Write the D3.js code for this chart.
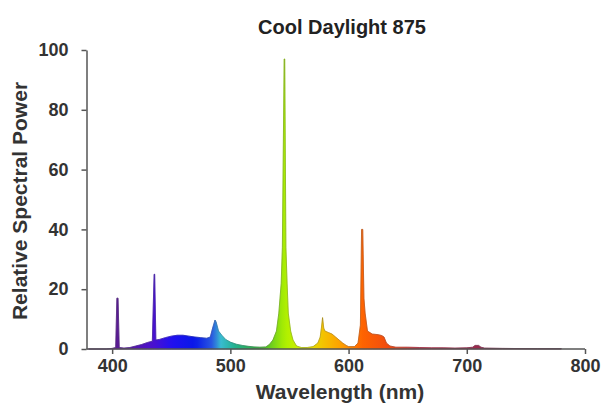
<!DOCTYPE html>
<head>
  <meta charset="utf-8">
  <style>
    body { margin: 0; background: #fff; }
    svg { background-color: #fff; font-family: "Liberation Sans", Arial, sans-serif; }
    .axis path, .axis line { stroke: #555; stroke-width: 1.5px; }
    .axis text { fill: #333; font-size: 18px; font-weight: bold; }
  </style>
</head>
<body>
  <svg></svg>
  <script src="https://d3js.org/d3.v7.min.js"></script>
  <script>
    // values
    let title = "Cool Daylight 875";
    let wavelength = [380, 395, 400, 403, 404, 405, 406, 410, 415, 420, 425, 430, 434, 435.5, 436, 437,
      440, 445, 450, 455, 460, 465, 470, 475, 480, 483, 485, 487, 488, 490, 493, 496, 500, 505, 510,
      515, 520, 525, 530, 533, 536, 539, 541, 543, 544, 545.5, 546, 547, 548, 549, 551, 553, 556, 560,
      565, 570, 574, 576, 577, 578, 579, 580, 583, 586, 589, 592, 595, 598, 600, 605, 608, 610, 611,
      612, 613, 614, 616, 620, 625, 628, 630, 632, 635, 640, 650, 660, 670, 680, 690, 700, 705, 707,
      710, 712, 715, 730, 760, 780];
    let power = [0, 0, 0.2, 0.5, 17, 17, 0.5, 0.3, 0.5, 1, 1.5, 2.2, 2.6, 25, 25, 3,
      3.2, 3.8, 4.3, 4.6, 4.6, 4.3, 4, 3.8, 3.6, 4, 7, 9.7, 9, 6, 4.5, 3.2, 2.3, 1.6, 1.2,
      0.9, 0.7, 0.6, 0.7, 1.5, 3, 6, 12, 22, 34, 97, 97, 34, 22, 12, 6, 3, 1, 0.5,
      0.5, 0.8, 2, 4, 7, 10.5, 7, 6, 5.5, 5, 4, 3, 2, 1.2, 0.8, 0.8, 2, 8, 40,
      40, 17, 12, 6, 5, 4.8, 4.5, 4, 2, 1, 0.6, 0.6, 0.5, 0.4, 0.4, 0.3, 0.4, 0.6, 1.2,
      1.2, 0.6, 0.3, 0.2, 0.1, 0.1];
    let xTicks = [400, 500, 600, 700, 800];
    let yTicks = [0, 20, 40, 60, 80, 100];

    let data = wavelength.map(function(w, i) { return {w: w, v: power[i]}; });

    let width = 604, height = 406;
    let svg = d3.select('svg').attr('width', width).attr('height', height);

    let x = d3.scaleLinear().domain([380, 800]).range([88.5, 585]);
    let y = d3.scaleLinear().domain([0, 100]).range([349, 50]);

    // colour of light by wavelength
    let hue = d3.scaleLinear()
      .domain([380, 410, 435, 450, 470, 485, 492, 505, 525, 546, 562, 578, 595, 611, 635, 660, 720, 780])
      .range(["#5a1a7a", "#5a1a9a", "#4a10d0", "#2210f0", "#0818e8", "#2a5ce0", "#38bcd0", "#22b088",
              "#38b038", "#acf000", "#d8ec00", "#f4c400", "#ff9c00", "#ff6400", "#f04a10", "#c82840",
              "#902a50", "#702850"]);

    let grad = svg.append('defs').append('linearGradient')
      .attr('id', 'spectrum')
      .attr('gradientUnits', 'userSpaceOnUse')
      .attr('x1', x(380)).attr('x2', x(780)).attr('y1', 0).attr('y2', 0);
    grad.selectAll('stop')
      .data(d3.range(380, 781, 4))
      .join('stop')
      .attr('offset', function(d) { return (d - 380) / 400; })
      .attr('stop-color', function(d) { return hue(d); });

    let area = d3.area()
      .x(function(d) { return x(d.w); })
      .y0(y(0))
      .y1(function(d) { return y(d.v); });

    svg.append('path')
      .datum(data)
      .attr('d', area)
      .attr('fill', 'url(#spectrum)')
      .attr('stroke', 'url(#spectrum)')
      .attr('stroke-width', 0.8);

    // thin dark outline on the sharp lines
    svg.append('path')
      .datum(data)
      .attr('d', d3.line().x(function(d) { return x(d.w); }).y(function(d) { return y(d.v); }))
      .attr('fill', 'none')
      .attr('stroke', '#404050')
      .attr('stroke-opacity', 0.35)
      .attr('stroke-width', 0.8);

    let xAxis = svg.append('g').classed('axis', true)
      .attr('transform', 'translate(0,' + y(0) + ')')
      .call(d3.axisBottom(x).tickValues(xTicks).tickSize(5).tickSizeOuter(0).tickPadding(5));
    xAxis.select('.domain').attr('d', 'M' + (x(380) - 2) + ',0H' + x(800));

    let yAxis = svg.append('g').classed('axis', true)
      .attr('transform', 'translate(' + (x(380) - 2) + ',0)')
      .call(d3.axisLeft(y).tickValues(yTicks).tickSize(5).tickSizeOuter(0).tickPadding(13));

    svg.append('text')
      .attr('x', 342).attr('y', 34)
      .attr('text-anchor', 'middle')
      .attr('font-size', 20).attr('font-weight', 'bold').attr('fill', '#222')
      .text(title);

    svg.append('text')
      .attr('x', 340).attr('y', 399)
      .attr('text-anchor', 'middle')
      .attr('font-size', 21).attr('font-weight', 'bold').attr('fill', '#333')
      .text('Wavelength (nm)');

    svg.append('text')
      .attr('transform', 'translate(27,201) rotate(-90)')
      .attr('text-anchor', 'middle')
      .attr('font-size', 21).attr('font-weight', 'bold').attr('fill', '#333')
      .text('Relative Spectral Power');
  </script>
</body>
